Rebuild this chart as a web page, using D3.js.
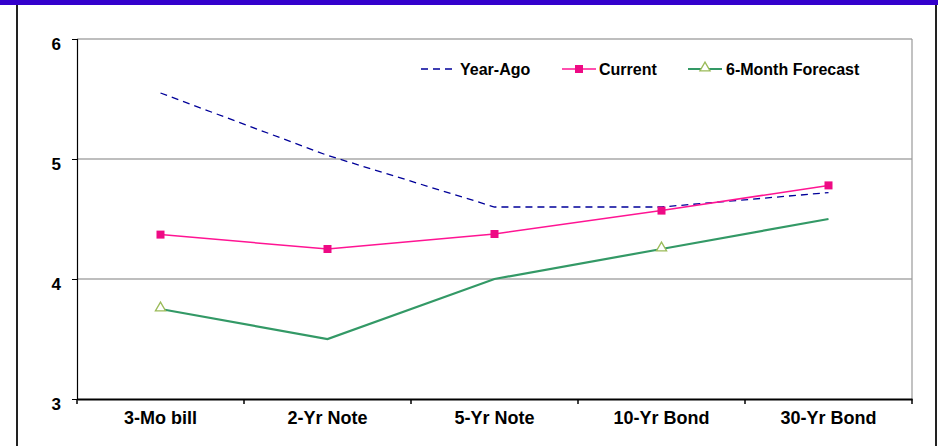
<!DOCTYPE html>
<html>
<head>
<meta charset="utf-8">
<script src="https://cdn.jsdelivr.net/npm/d3@7"></script>
<style>
  html, body { margin: 0; padding: 0; background: #fff; }
  svg { display: block; font-family: "Liberation Sans", Arial, sans-serif; }
</style>
</head>
<body>
<svg id="chart" width="938" height="446"></svg>
<script>
const categories = ["3-Mo bill", "2-Yr Note", "5-Yr Note", "10-Yr Bond", "30-Yr Bond"];
const yearAgo = [5.55, 5.03, 4.60, 4.60, 4.72];
const current = [4.37, 4.25, 4.375, 4.57, 4.78];
const forecast = [3.75, 3.50, 4.00, 4.25, 4.50];
const yTicks = [3, 4, 5, 6];
const seriesNames = ["Year-Ago", "Current", "6-Month Forecast"];

const svg = d3.select("#chart");
const W = 938, H = 446;
const plot = { left: 77, right: 912, top: 39, bottom: 399 };
const FONT = "Liberation Sans, Arial, sans-serif";

// Outer frame: blue header strip and dark side borders
svg.append("rect").attr("x", 0).attr("y", 0).attr("width", W).attr("height", 5).attr("fill", "#3300CC");
svg.append("line").attr("x1", 17).attr("x2", 17).attr("y1", 5).attr("y2", H)
  .attr("stroke", "#222").attr("stroke-width", 2);
svg.append("line").attr("x1", 936).attr("x2", 936).attr("y1", 5).attr("y2", H)
  .attr("stroke", "#222").attr("stroke-width", 2);

const x = d3.scaleBand().domain(categories).range([plot.left, plot.right]);
const y = d3.scaleLinear().domain([3, 6]).range([plot.bottom, plot.top]);
const cx = d => x(d) + x.bandwidth() / 2;

// Horizontal gridlines
svg.append("g").selectAll("line").data(yTicks.filter(t => t > 3)).join("line")
  .attr("x1", plot.left).attr("x2", plot.right)
  .attr("y1", d => y(d)).attr("y2", d => y(d))
  .attr("stroke", "#7f7f7f").attr("stroke-width", 1.2);

// Right plot border
svg.append("line").attr("x1", plot.right).attr("x2", plot.right)
  .attr("y1", plot.top).attr("y2", plot.bottom).attr("stroke", "#999").attr("stroke-width", 1.2);

// Y axis
const yAxis = svg.append("g").attr("transform", `translate(${plot.left},0)`)
  .call(d3.axisLeft(y).tickValues(yTicks).tickSize(5).tickPadding(11).tickFormat(d3.format("d")));
yAxis.select(".domain").attr("stroke", "#000").attr("stroke-width", 1.2);
yAxis.selectAll(".tick line").attr("stroke", "#000");
yAxis.selectAll("text").attr("font-size", 17).attr("font-weight", "bold").attr("dy", "0.6em")
  .attr("font-family", FONT).attr("fill", "#000");

// X axis with tick marks between categories
const xAxis = svg.append("g").attr("transform", `translate(0,${plot.bottom})`)
  .call(d3.axisBottom(x).tickSize(0).tickPadding(12));
xAxis.select(".domain").attr("stroke", "#000").attr("stroke-width", 2.2);
xAxis.selectAll("text").attr("font-size", 18).attr("font-weight", "bold")
  .attr("font-family", FONT).attr("fill", "#000");
const boundaries = categories.map(c => x(c)).concat([plot.right]);
svg.append("g").selectAll("line").data(boundaries).join("line")
  .attr("x1", d => d).attr("x2", d => d)
  .attr("y1", plot.bottom).attr("y2", plot.bottom + 5)
  .attr("stroke", "#000").attr("stroke-width", 1.5);

const line = d3.line().x((d, i) => cx(categories[i])).y(d => y(d));

// Year-Ago: dashed navy line
svg.append("path").datum(yearAgo).attr("d", line)
  .attr("fill", "none").attr("stroke", "#000099").attr("stroke-width", 1.3)
  .attr("stroke-dasharray", "7,5");

// Current: magenta line with square markers
svg.append("path").datum(current).attr("d", line)
  .attr("fill", "none").attr("stroke", "#FF1493").attr("stroke-width", 1.5);
svg.append("g").selectAll("rect").data(current).join("rect")
  .attr("x", (d, i) => cx(categories[i]) - 4).attr("y", d => y(d) - 4)
  .attr("width", 8).attr("height", 8).attr("fill", "#EE0A84");

// 6-Month Forecast: green line with hollow triangle markers
svg.append("path").datum(forecast).attr("d", line)
  .attr("fill", "none").attr("stroke", "#339966").attr("stroke-width", 2.2);
const tri = d3.symbol().type(d3.symbolTriangle).size(45);
const markedForecast = [0, 3];
svg.append("g").selectAll("path").data(markedForecast).join("path")
  .attr("d", tri)
  .attr("transform", i => `translate(${cx(categories[i])},${y(forecast[i]) - 1})`)
  .attr("fill", "#fff").attr("stroke", "#9BBB59").attr("stroke-width", 1.3);

// Legend
const lg = svg.append("g").attr("font-size", 16).attr("font-weight", "bold")
  .attr("font-family", FONT);
const legY = 69;
const legItems = [
  { name: seriesNames[0], x0: 421, x1: 456, tx: 460 },
  { name: seriesNames[1], x0: 562, x1: 596, tx: 599 },
  { name: seriesNames[2], x0: 688, x1: 722, tx: 726 }
];
lg.append("line").attr("x1", legItems[0].x0).attr("x2", legItems[0].x1).attr("y1", legY).attr("y2", legY)
  .attr("stroke", "#000099").attr("stroke-width", 1.3).attr("stroke-dasharray", "7,5");
lg.append("line").attr("x1", legItems[1].x0).attr("x2", legItems[1].x1).attr("y1", legY).attr("y2", legY)
  .attr("stroke", "#FF1493").attr("stroke-width", 1.5);
lg.append("rect").attr("x", (legItems[1].x0 + legItems[1].x1) / 2 - 4).attr("y", legY - 4)
  .attr("width", 8).attr("height", 8).attr("fill", "#EE0A84");
lg.append("line").attr("x1", legItems[2].x0).attr("x2", legItems[2].x1).attr("y1", legY).attr("y2", legY)
  .attr("stroke", "#339966").attr("stroke-width", 2.2);
lg.append("path").attr("d", tri)
  .attr("transform", `translate(${(legItems[2].x0 + legItems[2].x1) / 2},${legY - 1})`)
  .attr("fill", "#fff").attr("stroke", "#9BBB59").attr("stroke-width", 1.3);
lg.selectAll("text").data(legItems).join("text")
  .attr("x", d => d.tx).attr("y", legY + 5.5).text(d => d.name).attr("fill", "#000");
</script>
</body>
</html>
